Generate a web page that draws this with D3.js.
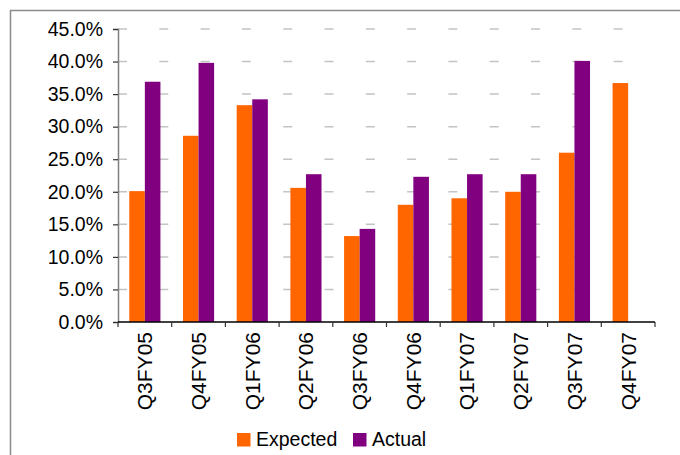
<!DOCTYPE html>
<html>
<head>
<meta charset="utf-8">
<script src="https://cdn.jsdelivr.net/npm/d3@7"></script>
<style>
  body { margin: 0; background: #fff; }
  svg { display: block; font-family: "Liberation Sans", Arial, sans-serif; }
</style>
</head>
<body>
<div id="chart"></div>
<script>
// data
var quarters = ["Q3FY05", "Q4FY05", "Q1FY06", "Q2FY06", "Q3FY06", "Q4FY06", "Q1FY07", "Q2FY07", "Q3FY07", "Q4FY07"];
var expected = [20.1, 28.6, 33.3, 20.6, 13.2, 18.0, 19.0, 20.0, 26.0, 36.7];
var actual   = [36.9, 39.8, 34.2, 22.7, 14.3, 22.3, 22.7, 22.7, 40.1, null];
var seriesNames = ["Expected", "Actual"];
var colors = ["#ff6600", "#800080"];
var yTicks = [0, 5, 10, 15, 20, 25, 30, 35, 40, 45];

var width = 680, height = 455;
var margin = { top: 29, right: 25, bottom: 133, left: 118 };
var plotW = width - margin.left - margin.right;
var plotH = height - margin.top - margin.bottom;

var svg = d3.select("#chart").append("svg")
    .attr("width", width)
    .attr("height", height);

// outer frame (runs off the right / bottom edges like the reference)
svg.append("rect")
    .attr("x", 10.5).attr("y", 10.5)
    .attr("width", width).attr("height", height)
    .attr("fill", "none")
    .attr("stroke", "#8c8c8c")
    .attr("stroke-width", 1.5);

var g = svg.append("g")
    .attr("transform", "translate(" + margin.left + "," + margin.top + ")");

var x0 = d3.scaleBand().domain(quarters).range([0, plotW]).padding(0);
var bw = x0.bandwidth();
var x1 = d3.scaleBand().domain(seriesNames).range([bw * 0.21, bw * 0.79]).padding(0);
var y = d3.scaleLinear().domain([0, 45]).range([plotH, 0]);

// dashed gridlines
g.selectAll(".grid")
  .data(yTicks.filter(function(d) { return d > 0; }))
  .enter().append("line")
    .attr("x1", 0).attr("x2", plotW)
    .attr("y1", function(d) { return y(d); })
    .attr("y2", function(d) { return y(d); })
    .attr("stroke", "#c4c4c4")
    .attr("stroke-width", 1.5)
    .attr("stroke-dasharray", "9,32.3");

// bars
var rows = quarters.map(function(q, i) {
  return { q: q, vals: [
    { name: "Expected", v: expected[i] },
    { name: "Actual", v: actual[i] }
  ] };
});

var groups = g.selectAll(".grp")
  .data(rows)
  .enter().append("g")
    .attr("transform", function(d) { return "translate(" + x0(d.q) + ",0)"; });

groups.selectAll("rect")
  .data(function(d) { return d.vals.filter(function(e) { return e.v != null; }); })
  .enter().append("rect")
    .attr("x", function(d) { return x1(d.name); })
    .attr("width", x1.bandwidth())
    .attr("y", function(d) { return y(d.v); })
    .attr("height", function(d) { return plotH - y(d.v); })
    .attr("fill", function(d) { return colors[seriesNames.indexOf(d.name)]; });

// y axis
var yAxis = g.append("g")
    .call(d3.axisLeft(y).tickValues(yTicks).tickSize(5).tickPadding(10)
      .tickFormat(function(d) { return d.toFixed(1) + "%"; }));
yAxis.select(".domain").attr("stroke", "#808080").attr("stroke-width", 1.5);
yAxis.selectAll(".tick line").attr("stroke", "#333").attr("stroke-width", 1.2);
yAxis.selectAll(".tick text")
    .attr("font-size", 19.5)
    .attr("fill", "#000")
    .attr("font-family", "Liberation Sans, Arial, sans-serif");

// x axis: ticks at category boundaries
var xAxisG = g.append("g").attr("transform", "translate(0," + plotH + ")");
xAxisG.append("line")
    .attr("x1", 0).attr("x2", plotW)
    .attr("stroke", "#000").attr("stroke-width", 1.5);
xAxisG.selectAll(".xt")
  .data(quarters.concat(["end"]))
  .enter().append("line")
    .attr("x1", function(d, i) { return i * bw; })
    .attr("x2", function(d, i) { return i * bw; })
    .attr("y1", 0).attr("y2", 5)
    .attr("stroke", "#333").attr("stroke-width", 1.2);
xAxisG.selectAll(".xl")
  .data(quarters)
  .enter().append("text")
    .attr("transform", function(d) {
      return "translate(" + (x0(d) + bw / 2) + ",10) rotate(-90)";
    })
    .attr("text-anchor", "end")
    .attr("dy", "0.35em")
    .attr("font-size", 21)
    .attr("fill", "#000")
    .text(function(d) { return d; });

// legend
var legend = svg.append("g").attr("transform", "translate(237,433)");
var legX = [0, 116];
seriesNames.forEach(function(name, i) {
  legend.append("rect")
      .attr("x", legX[i]).attr("y", 0)
      .attr("width", 13.5).attr("height", 13.5)
      .attr("fill", colors[i]);
  legend.append("text")
      .attr("x", legX[i] + 19).attr("y", 13)
      .attr("font-size", 19.5)
      .attr("fill", "#000")
      .text(name);
});
</script>
</body>
</html>
